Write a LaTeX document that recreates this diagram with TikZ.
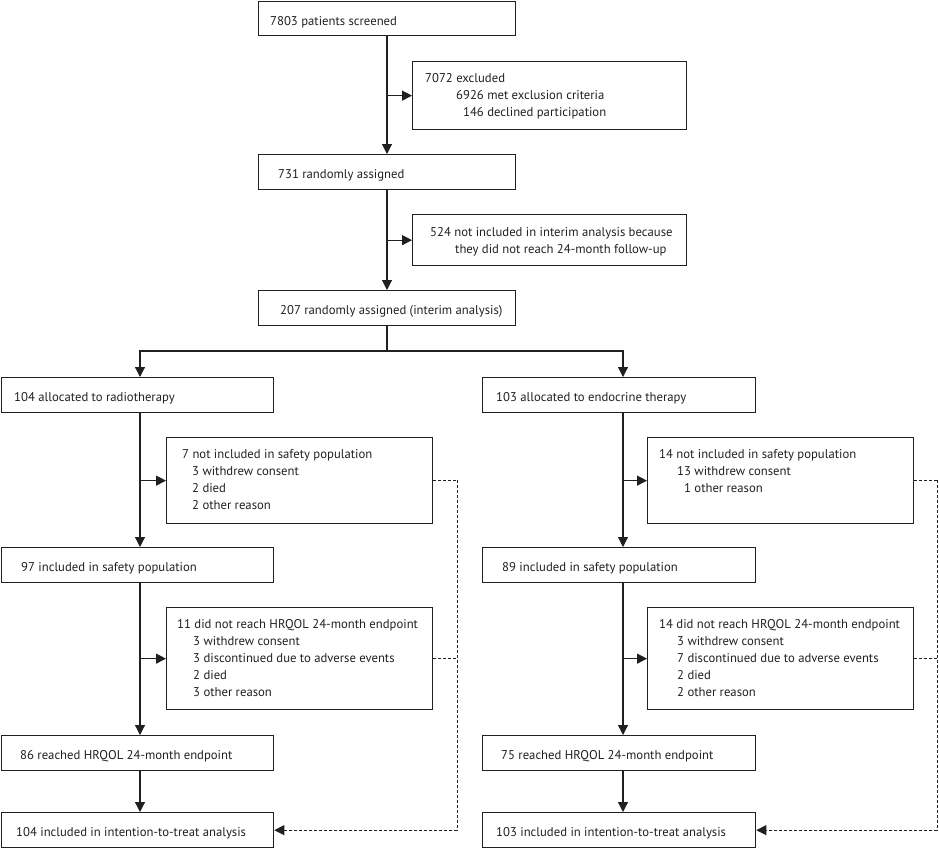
\documentclass[tikz,border=0pt]{standalone}
\usepackage{fontspec}
\setmainfont{PT Sans}
\usetikzlibrary{arrows.meta,calc}
\newcommand\fstrut{\rule{0pt}{12pt}}
\definecolor{ink}{HTML}{231F20}
\tikzset{
  box/.style n args={2}{draw=ink, line width=1.3pt, inner sep=0pt, minimum width=#1, minimum height=#2, anchor=north west},
  txt/.style={inner sep=0pt, anchor=north west, align=left, text=ink, font=\fontsize{12.7}{17}\selectfont},
  conn/.style={draw=ink, line width=1.2pt, -{Triangle[length=10pt,width=10pt]}},
  plainline/.style={draw=ink, line width=1.2pt},
  dashline/.style={draw=ink, line width=1pt, dash pattern=on 3pt off 2pt},
  dasharrow/.style={draw=ink, line width=1pt, dash pattern=on 3pt off 2pt, -{Triangle[length=10pt,width=10pt]}},
}
\begin{document}
\begin{tikzpicture}[x=1pt,y=-1pt]
\useasboundingbox (0,0) rectangle (939,848);
% top boxes
\node[box={257pt}{34pt}] (A) at (258,1) {};
\node[txt] (At) at (270,13) {\fstrut 7803 patients screened};
\node[box={274pt}{68pt}] (B) at (412,61) {};
\node[txt] (Bt) at (425,70) {\fstrut 7072 excluded\\\hspace*{31pt}6926 met exclusion criteria\\\hspace*{31pt}\phantom{0}146 declined participation};
\node[box={257pt}{35pt}] (C) at (258,154) {};
\node[txt] (Ct) at (278,166) {\fstrut 731 randomly assigned};
\node[box={274pt}{51pt}] (D) at (412,214) {};
\node[txt] (Dt) at (430,224) {\fstrut 524 not included in interim analysis because\\\hspace*{25pt}they did not reach 24-month follow-up};
\node[box={257pt}{35pt}] (E) at (258,290) {};
\node[txt] (Et) at (280,302) {\fstrut 207 randomly assigned (interim analysis)};
% left arm
\node[box={272pt}{35pt}] (F) at (1,377) {};
\node[txt] (Ft) at (14,389) {\fstrut 104 allocated to radiotherapy};
\node[box={266pt}{86pt}] (G) at (166,437) {};
\node[txt] (Gt) at (182,446) {\fstrut 7 not included in safety population\\\hspace*{10pt}3 withdrew consent\\\hspace*{10pt}2 died\\\hspace*{10pt}2 other reason};
\node[box={272pt}{35pt}] (H) at (1,547) {};
\node[txt] (Ht) at (21,559) {\fstrut 97 included in safety population};
\node[box={266pt}{102pt}] (I) at (166,607) {};
\node[txt] (It) at (177,616) {\fstrut 11 did not reach HRQOL 24-month endpoint\\\hspace*{16pt}3 withdrew consent\\\hspace*{16pt}3 discontinued due to adverse events\\\hspace*{16pt}2 died\\\hspace*{16pt}3 other reason};
\node[box={272pt}{35pt}] (J) at (1,735) {};
\node[txt] (Jt) at (20,747) {\fstrut 86 reached HRQOL 24-month endpoint};
\node[box={272pt}{35pt}] (K) at (1,812) {};
\node[txt] (Kt) at (16,824) {\fstrut 104 included in intention-to-treat analysis};
% right arm
\node[box={273pt}{35pt}] (F2) at (482,377) {};
\node[txt] (F2t) at (496,389) {\fstrut 103 allocated to endocrine therapy};
\node[box={266pt}{86pt}] (G2) at (647,437) {};
\node[txt] (G2t) at (659,446) {\fstrut 14 not included in safety population\\\hspace*{18pt}13 withdrew consent\\\hspace*{18pt}\phantom{1}1 other reason};
\node[box={273pt}{35pt}] (H2) at (482,547) {};
\node[txt] (H2t) at (502,559) {\fstrut 89 included in safety population};
\node[box={266pt}{102pt}] (I2) at (647,607) {};
\node[txt] (I2t) at (659,616) {\fstrut 14 did not reach HRQOL 24-month endpoint\\\hspace*{18pt}3 withdrew consent\\\hspace*{18pt}7 discontinued due to adverse events\\\hspace*{18pt}2 died\\\hspace*{18pt}2 other reason};
\node[box={273pt}{35pt}] (J2) at (482,735) {};
\node[txt] (J2t) at (501,747) {\fstrut 75 reached HRQOL 24-month endpoint};
\node[box={273pt}{35pt}] (K2) at (482,812) {};
\node[txt] (K2t) at (496,824) {\fstrut 103 included in intention-to-treat analysis};
% spine coordinates
\coordinate (sp) at (387,351);
\coordinate (L) at (140,351);
\coordinate (R) at (623,351);
\coordinate (dl) at (457,480);
\coordinate (dr) at (937,480);
% top connectors
\path[conn] (sp |- A.south) -- (sp |- C.north);
\path[conn] (sp |- B.west) -- (B.west);
\path[conn] (sp |- C.south) -- (sp |- E.north);
\path[conn] (sp |- D.west) -- (D.west);
\path[plainline] (sp |- E.south) -- (sp);
\path[conn] (sp) -- (L) -- (L |- F.north);
\path[conn] (sp) -- (R) -- (R |- F2.north);
% left arm connectors
\path[conn] (L |- F.south) -- (L |- H.north);
\path[conn] (L |- G.west) -- (G.west);
\path[conn] (L |- H.south) -- (L |- J.north);
\path[conn] (L |- I.west) -- (I.west);
\path[conn] (L |- J.south) -- (L |- K.north);
% right arm connectors
\path[conn] (R |- F2.south) -- (R |- H2.north);
\path[conn] (R |- G2.west) -- (G2.west);
\path[conn] (R |- H2.south) -- (R |- J2.north);
\path[conn] (R |- I2.west) -- (I2.west);
\path[conn] (R |- J2.south) -- (R |- K2.north);
% dashed returns
\path[dashline] (G.east) -- (dl |- G.east) -- (dl);
\path[dasharrow] (dl) -- (dl |- K.east) -- (K.east);
\path[dashline] (I.east) -- (dl |- I.east);
\path[dashline] (G2.east) -- (dr |- G2.east) -- (dr);
\path[dasharrow] (dr) -- (dr |- K2.east) -- (K2.east);
\path[dashline] (I2.east) -- (dr |- I2.east);
\end{tikzpicture}
\end{document}
